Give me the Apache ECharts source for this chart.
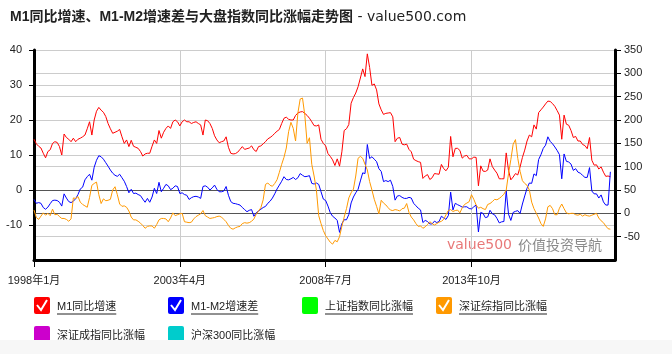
<!DOCTYPE html>
<html>
<head>
<meta charset="utf-8">
<script src="https://cdn.jsdelivr.net/npm/echarts@6/dist/echarts.min.js"></script>
<style>
  html, body { margin: 0; padding: 0; background: #fff; }
  #chart { width: 672px; height: 354px; }
</style>
</head>
<body>
<div id="chart"></div>
<script>
(function() {
  // monthly categories, 1998-01 .. 2018-12
  const months = [];
  for (let y = 1998; y <= 2018; y++) {
    for (let m = 1; m <= 12; m++) months.push(y + '年' + m + '月');
  }

  // M1 同比增速 (%), left axis
  const m1 = [
    14.5,13.2,12.5,12.0,10.5,9.2,11.0,11.5,13.3,13.8,13.6,12.4,
    10.0,16.0,15.0,14.5,13.8,14.8,13.8,14.5,14.8,15.2,15.7,17.5,
    19.5,15.7,20.0,22.5,23.6,22.8,22.2,21.0,19.0,17.5,16.2,16.5,
    16.8,17.3,15.2,13.3,14.3,12.4,14.2,12.5,12.2,11.9,11.0,9.7,
    10.3,10.5,10.5,12.5,14.3,13.3,17.0,14.8,16.5,17.6,18.3,17.6,
    19.5,20.0,19.5,18.3,19.5,20.0,19.5,19.5,19.0,19.3,19.5,19.0,
    18.6,15.7,20.0,19.8,19.0,17.6,15.5,14.3,13.5,13.8,14.0,15.2,
    12.2,10.5,10.3,10.4,10.8,11.6,12.4,11.6,11.8,12.0,12.6,11.5,
    11.0,12.4,12.6,13.2,13.8,14.6,15.0,15.5,16.2,16.8,17.3,19.0,
    20.5,20.8,20.2,20.0,20.0,21.3,22.0,22.3,22.4,21.9,21.3,20.5,
    19.5,18.4,18.3,18.6,14.5,13.3,12.6,10.4,9.6,8.6,7.0,8.9,
    6.8,10.9,17.0,17.5,18.7,24.8,26.4,27.7,29.5,32.0,34.6,32.4,
    38.9,35.0,29.9,30.3,28.6,24.6,22.9,21.6,21.9,22.0,22.1,20.9,
    13.8,14.8,15.0,13.1,12.9,13.1,11.6,10.9,8.8,8.4,8.1,7.9,
    3.3,4.0,4.4,3.0,3.5,4.7,4.6,4.5,7.3,6.1,5.5,6.5,
    15.3,9.5,11.9,11.9,11.3,9.1,9.7,9.9,8.9,8.9,9.4,9.3,
    1.2,6.9,5.4,5.3,5.7,8.9,6.7,5.7,4.8,3.2,3.2,3.2,
    10.6,5.6,2.9,3.7,4.7,4.3,6.6,9.3,11.4,14.0,15.7,15.2,
    18.6,17.4,22.1,22.9,23.7,24.6,25.4,25.3,24.7,23.9,22.7,21.4,
    14.5,21.4,18.8,18.5,17.0,15.0,15.3,14.0,14.0,13.0,12.7,11.8,
    15.0,8.5,7.1,7.2,6.0,6.6,5.1,3.9,4.0,3.8
  ];

  // M1-M2 增速差 (%), left axis
  const m1m2 = [
    -2.7,-3.8,-3.6,-3.8,-5.0,-5.5,-4.9,-3.9,-3.0,-2.9,-3.0,-3.5,
    -4.6,-1.1,-2.3,-3.3,-3.6,-3.2,-2.5,-1.3,0.3,0.8,2.9,3.8,
    4.5,2.8,6.5,8.5,9.8,9.5,8.8,7.8,6.8,5.7,4.8,4.2,
    3.9,4.5,3.5,2.5,1.0,-0.8,0.2,-1.0,-0.9,-1.3,-1.6,-2.6,
    -3.5,-2.4,-3.5,-2.0,0.5,-1.0,2.2,-0.5,0.5,1.6,1.2,0.1,
    0.5,1.2,1.0,-1.0,-0.8,-1.3,-1.5,-2.7,-2.2,-1.9,-1.8,-2.0,
    -2.4,1.0,1.2,0.8,0.0,0.6,1.4,0.2,-0.5,-0.5,-0.3,1.0,
    -1.5,-3.3,-3.8,-3.9,-4.1,-4.3,-5.0,-5.6,-6.2,-5.8,-5.6,-7.5,
    -6.5,-6.0,-5.5,-5.0,-4.7,-3.8,-3.2,-2.3,-1.1,0.3,1.4,2.5,
    3.8,3.0,2.9,3.2,3.6,3.0,3.5,4.7,4.2,3.8,3.9,4.1,
    1.9,1.7,2.0,1.6,-0.5,-2.6,-3.0,-4.6,-6.5,-7.5,-8.0,-8.7,
    -12.1,-9.6,-8.5,-8.5,-7.0,-3.7,-2.0,-0.8,0.2,2.6,4.9,4.7,
    13.0,9.0,9.5,8.8,8.1,6.1,5.3,2.4,2.7,2.4,2.8,1.0,
    -2.9,-1.7,-1.6,-2.1,-2.4,-2.4,-2.1,-2.3,-3.8,-4.5,-5.2,-5.7,
    -9.3,-8.7,-9.0,-9.7,-9.7,-8.9,-9.3,-9.0,-7.5,-8.0,-8.4,-7.3,
    -0.6,-5.7,-3.8,-4.2,-4.5,-4.9,-4.8,-4.8,-5.3,-5.4,-4.8,-4.3,
    -12.0,-6.4,-6.7,-7.9,-7.7,-5.8,-6.8,-7.1,-8.1,-9.4,-9.1,-9.0,
    -0.2,-6.9,-8.7,-6.4,-6.1,-5.9,-6.7,-4.0,-1.7,0.5,2.0,1.9,
    4.6,4.1,8.7,10.1,11.9,12.8,15.2,13.9,13.2,12.3,11.3,10.1,
    3.2,10.3,8.2,8.0,7.4,5.6,6.1,5.1,4.8,4.2,3.6,3.6,
    6.4,-0.3,-1.1,-1.1,-2.3,-1.4,-3.4,-4.3,-4.3,5.2
  ];

  // 深证综指同比涨幅 (%), right axis
  const szComp = [
    7,-9,-13,-6,1,-4,0,-5,9,-3,-2,-7,
    -11,-11,-13,-17,-12,33,32,36,24,19,16,13,
    34,60,64,67,40,21,31,27,28,30,50,57,
    40,20,15,16,13,5,-8,-14,-14,-17,-21,-26,
    -32,-28,-27,-27,-32,-24,-14,-11,-11,-12,-18,-10,
    1,-5,-3,-1,0,-18,-19,-20,-19,-12,-7,-4,
    -1,6,-5,-8,-11,-10,-9,-7,-6,-8,-13,-18,
    -26,-32,-34,-31,-29,-28,-22,-20,-21,-20,-17,-12,
    -2,5,12,29,62,65,60,58,64,72,88,105,
    120,140,175,195,182,155,215,245,247,210,150,162,
    105,80,50,-5,-22,-37,-48,-55,-62,-66,-58,-61,
    -50,-28,-8,10,33,44,52,80,118,122,118,105,
    93,68,50,30,15,-1,28,22,18,12,7,6,
    8,7,5,10,11,21,2,-8,-14,-22,-28,-27,
    -32,-29,-24,-18,-22,-25,-22,-19,-17,-13,-3,6,
    8,4,6,7,1,12,19,22,25,40,30,18,
    11,13,10,8,19,21,25,30,29,32,36,41,
    50,85,115,148,158,118,90,70,64,60,50,24,
    10,0,-10,-22,-28,-12,14,17,10,-3,-3,11,
    20,10,1,-1,0,0,-3,-4,-2,-6,-3,-5,
    -6,-4,-2,0,-10,-16,-20,-27,-33,-34
  ];

  // legend boxes under the chart
  const legendItems = [
    { name: 'M1同比增速', color: '#ff0000', checked: true, link: true },
    { name: 'M1-M2增速差', color: '#0000ff', checked: true, link: true },
    { name: '上证指数同比涨幅', color: '#00ff00', checked: false, link: true },
    { name: '深证综指同比涨幅', color: '#ff9900', checked: true, link: true },
    { name: '深证成指同比涨幅', color: '#cc00cc', checked: false, link: false },
    { name: '沪深300同比涨幅', color: '#00cccc', checked: false, link: false }
  ];

  const FONT = '"Liberation Sans", Arial, "Noto Sans CJK SC", sans-serif';
  const chart = echarts.init(document.getElementById('chart'));

  const legendX = [34, 168, 302, 436];
  const legendY = [297, 326];
  const graphics = [];
  legendItems.forEach((it, i) => {
    const x = legendX[i % 4];
    const y = legendY[Math.floor(i / 4)];
    graphics.push({
      type: 'rect', left: x, top: y,
      shape: { width: 16, height: 17, r: 2 },
      style: { fill: it.color }
    });
    if (it.checked) {
      graphics.push({
        type: 'polyline',
        shape: { points: [[x + 3, y + 8], [x + 7, y + 13], [x + 13, y + 3]] },
        style: { stroke: '#fff', lineWidth: 2, fill: null }
      });
    }
    graphics.push({
      type: 'text', left: x + 23, top: y + 4,
      style: { text: it.name, fontSize: 11, fill: '#222', fontFamily: FONT }
    });
    if (it.link) {
      const w = echarts.format.getTextRect
        ? echarts.format.getTextRect(it.name, '11px ' + FONT).width : it.name.length * 11;
      graphics.push({
        type: 'line',
        shape: { x1: x + 23, y1: y + 17, x2: x + 23 + w, y2: y + 17 },
        style: { stroke: '#222', lineWidth: 1 }
      });
    }
  });

  // page footer strip that cuts the second legend row
  graphics.push({
    type: 'rect', left: 0, top: 340, z: 100,
    shape: { width: 672, height: 14 },
    style: { fill: '#f7f7f7' }
  });

  // watermark
  graphics.push({
    type: 'text', left: 447, top: 238,
    style: { text: 'value500', fontSize: 14, fill: '#e87878', fontFamily: '"DejaVu Sans", sans-serif' }
  });
  graphics.push({
    type: 'text', left: 518, top: 238,
    style: { text: '价值投资导航', fontSize: 14, fill: '#8a8a8a', fontFamily: '"Noto Sans CJK SC", sans-serif' }
  });

  // zero lines darker; right axis 50 sits on the left axis 0
  const gridColorsL = ['#cccccc','#cccccc','#555555','#cccccc','#cccccc','#cccccc','#cccccc'];
  const gridColorsR = ['#cccccc','#cccccc','#555555','#555555','#cccccc','#cccccc','#cccccc','#cccccc','#cccccc','#cccccc'];

  const option = {
    animation: false,
    title: {
      left: 5, top: 5,
      text: '{b|M1同比增速、M1-M2增速差与大盘指数同比涨幅走势图}{n| - value500.com}',
      textStyle: {
        rich: {
          b: { fontSize: 14, fontWeight: 'bold', color: '#222', fontFamily: FONT },
          n: { fontSize: 14, fontWeight: 'normal', color: '#222', fontFamily: '"DejaVu Sans", sans-serif' }
        }
      }
    },
    grid: { left: 34, right: 57, top: 50, bottom: 94 },
    graphic: graphics,
    xAxis: {
      type: 'category',
      data: months,
      boundaryGap: false,
      axisLine: { onZero: false, lineStyle: { color: '#000', width: 3 } },
      axisTick: { interval: 62, length: 7, lineStyle: { color: '#000', width: 1 } },
      axisLabel: { interval: 62, margin: 15, fontSize: 11, color: '#222', fontFamily: FONT },
      splitLine: { show: true, interval: 62, lineStyle: { color: '#cccccc', width: 1 } }
    },
    yAxis: [
      {
        type: 'value', position: 'left',
        min: -20, max: 40, interval: 10,
        axisLine: { show: true, lineStyle: { color: '#000', width: 3 } },
        axisTick: { show: true, length: 5, lineStyle: { color: '#000', width: 1 } },
        axisLabel: { showMinLabel: false, margin: 12, fontSize: 11, color: '#222', fontFamily: FONT },
        splitLine: { lineStyle: { color: gridColorsL, width: 1 } }
      },
      {
        type: 'value', position: 'right',
        min: -100, max: 350, interval: 50,
        axisLine: { show: true, lineStyle: { color: '#000', width: 3 } },
        axisTick: { show: true, length: 6, lineStyle: { color: '#000', width: 1 } },
        axisLabel: { showMinLabel: false, margin: 9, fontSize: 11, color: '#222', fontFamily: FONT },
        splitLine: { lineStyle: { color: gridColorsR, width: 1 } }
      }
    ],
    series: [
      {
        name: 'M1同比增速', type: 'line', data: m1,
        symbol: 'none', lineStyle: { color: '#ff0000', width: 1 }
      },
      {
        name: 'M1-M2增速差', type: 'line', data: m1m2,
        symbol: 'none', lineStyle: { color: '#0000ff', width: 1 }
      },
      {
        name: '深证综指同比涨幅', type: 'line', data: szComp, yAxisIndex: 1,
        symbol: 'none', lineStyle: { color: '#ff9900', width: 1 }
      }
    ]
  };

  chart.setOption(option);
  window.addEventListener('resize', () => chart.resize());
})();
</script>
</body>
</html>
